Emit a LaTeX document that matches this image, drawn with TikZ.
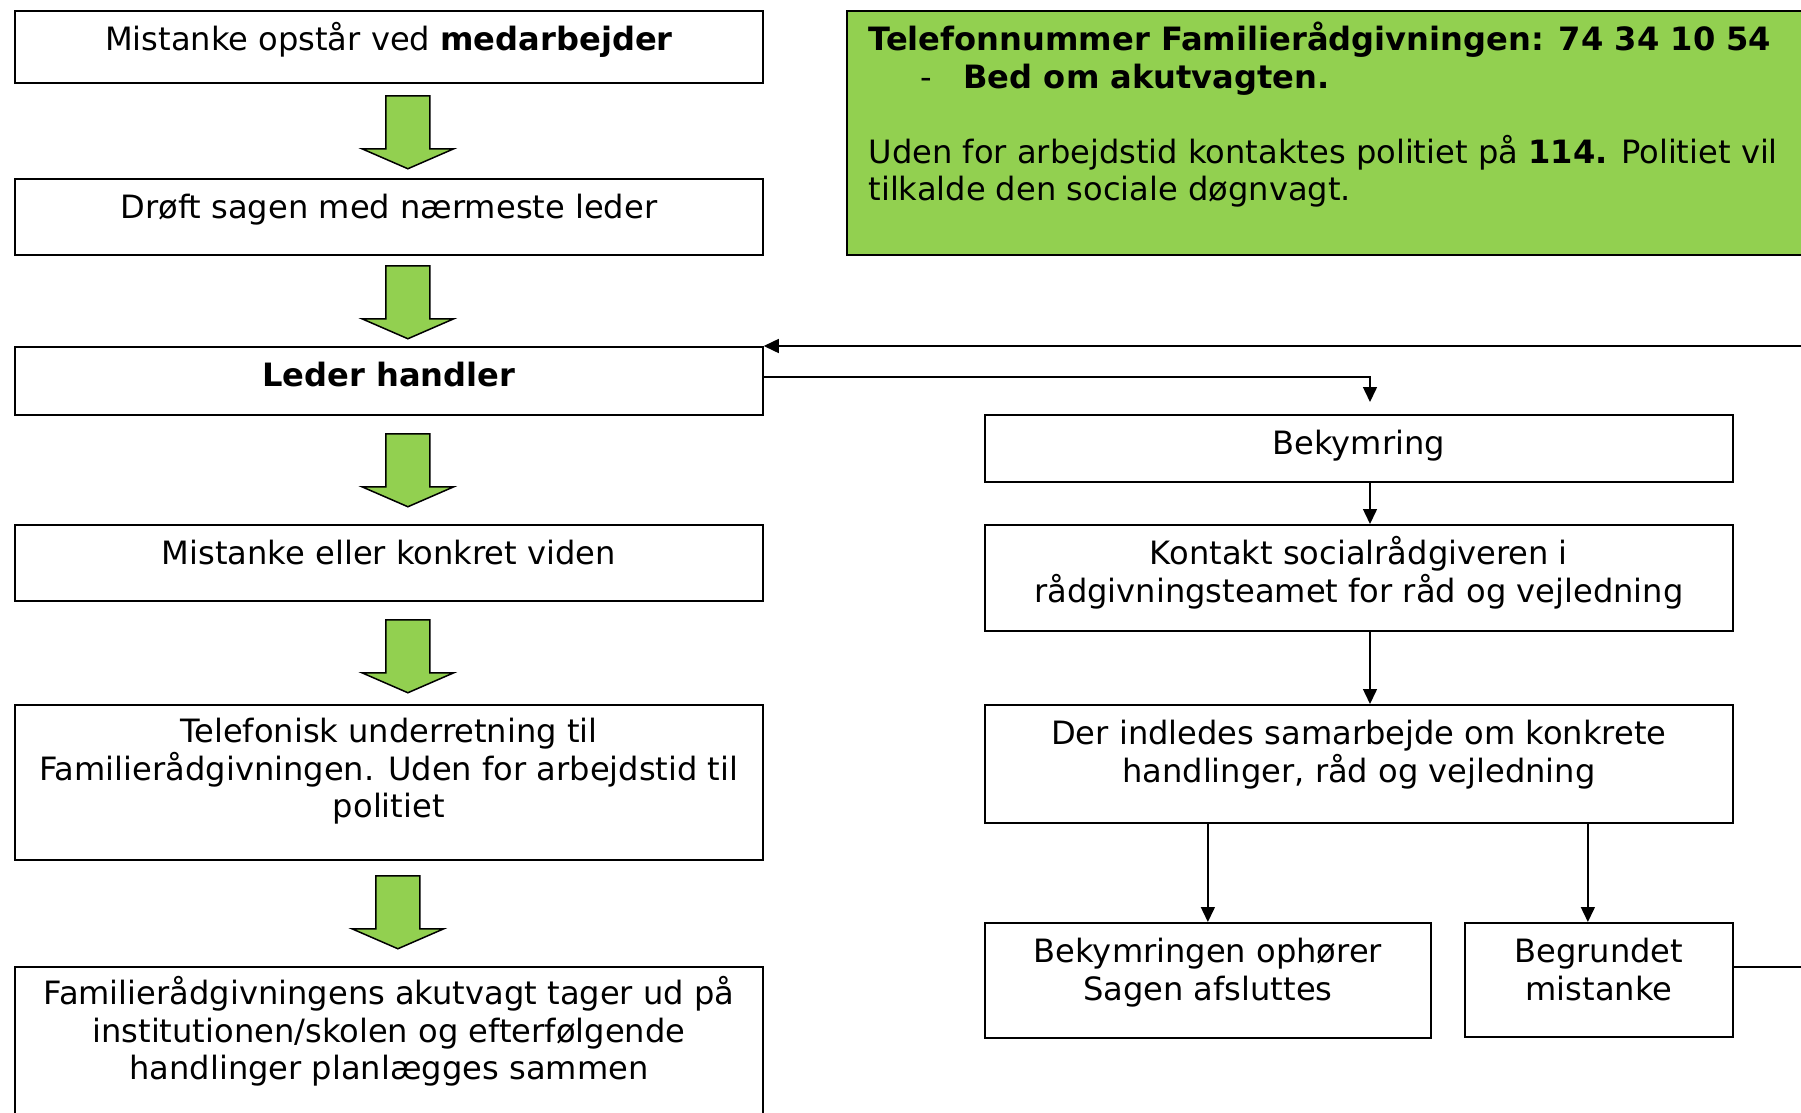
\documentclass[tikz,border=0pt]{standalone}
\usepackage{fontspec}
\setmainfont{DejaVu Sans}
\usetikzlibrary{arrows.meta,calc}
\definecolor{agreen}{RGB}{146,208,80}
\newcommand\tstrut{\rule{0pt}{12pt}}
\begin{document}
\begin{tikzpicture}[x=0.4pt,y=-0.4pt,
 box/.style={draw, rectangle, inner sep=0pt, line width=0.7pt, anchor=north west},
 txt/.style={align=center, anchor=north, inner sep=0pt, font=\fontsize{12.85}{15}\selectfont},
 conn/.style={line width=0.6pt, -{Triangle[length=6pt,width=5.6pt]}},
 bigarrow/.pic={\draw[fill=agreen, line width=0.6pt, line join=miter] (-22,0) -- (22,0) -- (22,53) -- (46,53) -- (0,73) -- (-46,53) -- (-22,53) -- cycle;}
]
\useasboundingbox (0,0) rectangle (1801,1113);
\fill[white] (0,0) rectangle (1801,1113);
\begin{scope}
\clip (0,0) rectangle (1801,1113);
% left column
\node[box, minimum width=299.2pt, minimum height=28.8pt] (b1) at (14,10) {};
\node[box, minimum width=299.2pt, minimum height=30.4pt] (b2) at (14,178) {};
\node[box, minimum width=299.2pt, minimum height=27.2pt] (b3) at (14,346) {};
\node[box, minimum width=299.2pt, minimum height=30.4pt] (b4) at (14,524) {};
\node[box, minimum width=299.2pt, minimum height=62pt] (b5) at (14,704) {};
\node[box, minimum width=299.2pt, minimum height=68pt] (b6) at (14,966) {};
\node[txt] (t1) at ($(b1.north)+(0,10)$) {\tstrut Mistanke opstår ved \textbf{medarbejder}};
\node[txt] (t2) at ($(b2.north)+(0,10)$) {\tstrut Drøft sagen med nærmeste leder};
\node[txt] (t3) at ($(b3.north)+(0,10)$) {\tstrut\textbf{Leder handler}};
\node[txt] (t4) at ($(b4.north)+(0,10)$) {\tstrut Mistanke eller konkret viden};
\node[txt] (t5) at ($(b5.north)+(0,8)$) {\tstrut Telefonisk underretning til\\Familierådgivningen. Uden for arbejdstid til\\politiet};
\node[txt] (t6) at ($(b6.north)+(0,8)$) {\tstrut Familierådgivningens akutvagt tager ud på\\institutionen/skolen og efterfølgende\\handlinger planlægges sammen};
% block arrows
\pic at ($(b1.south)+(19,12)$) {bigarrow};
\pic at ($(b2.south)+(19,10)$) {bigarrow};
\pic at ($(b3.south)+(19,18)$) {bigarrow};
\pic at ($(b4.south)+(19,18)$) {bigarrow};
\pic at ($(b5.south)+(9,15)$) {bigarrow};
% green info box
\node[box, fill=agreen, minimum width=393.6pt, minimum height=97.6pt] (g) at (846,10) {};
\node[txt, align=left, anchor=north west] (tg) at ($(g.north west)+(22,10)$) {\tstrut\textbf{Telefonnummer Familierådgivningen: 74 34 10 54}\\
\hspace*{20.8pt}\makebox[17.2pt][l]{-}\textbf{Bed om akutvagten.}\\[15pt]
Uden for arbejdstid kontaktes politiet på \textbf{114.} Politiet vil\\
tilkalde den sociale døgnvagt.};
% right column
\node[box, minimum width=299.2pt, minimum height=26.8pt] (r1) at (984,414) {};
\node[box, minimum width=299.2pt, minimum height=42.4pt] (r2) at (984,524) {};
\node[box, minimum width=299.2pt, minimum height=47.2pt] (r3) at (984,704) {};
\node[box, minimum width=178.4pt, minimum height=46pt] (r4) at (984,922) {};
\node[box, minimum width=107.2pt, minimum height=45.6pt] (r5) at (1464,922) {};
\node[txt] (tr1) at ($(r1.north)+(0,10)$) {\tstrut Bekymring};
\node[txt] (tr2) at ($(r2.north)+(0,10)$) {\tstrut Kontakt socialrådgiveren i\\rådgivningsteamet for råd og vejledning};
\node[txt] (tr3) at ($(r3.north)+(0,10)$) {\tstrut Der indledes samarbejde om konkrete\\handlinger, råd og vejledning};
\node[txt] (tr4) at ($(r4.north)+(0,10)$) {\tstrut Bekymringen ophører\\Sagen afsluttes};
\node[txt] (tr5) at ($(r5.north)+(0,10)$) {\tstrut Begrundet\\mistanke};
% connectors
\coordinate (c1) at (1370,402);
\draw[conn] ($(b3.east)+(0,-4)$) -| (c1);
\draw[conn] (r1.south -| c1) -- (r2.north -| c1);
\draw[conn] (r2.south -| c1) -- (r3.north -| c1);
\draw[conn] (r3.south -| r4.north) -- (r4.north);
\coordinate (c2) at ($(r5.north)+(-11,0)$);
\draw[conn] (r3.south -| c2) -- (c2);
\coordinate (c3) at (1830,600);
\draw[conn] ($(r5.east)+(0,-13)$) -| (c3) |- (b3.north east);
\end{scope}
\end{tikzpicture}
\end{document}
